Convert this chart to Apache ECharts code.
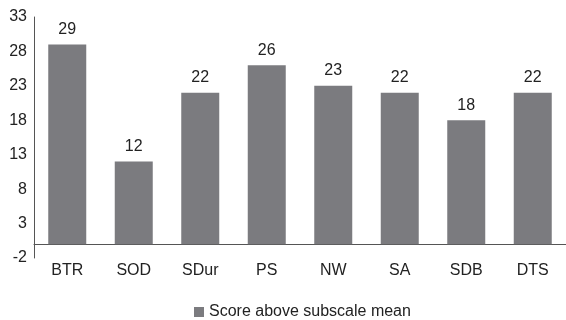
<!DOCTYPE html>
<html><head><meta charset="utf-8">
<script src="https://cdn.jsdelivr.net/npm/echarts@6/dist/echarts.min.js"></script>
<style>html,body{margin:0;padding:0;background:#fff}#c{width:566px;height:320px}</style>
</head><body><div id="c"></div>
<script>
var categories = ["BTR","SOD","SDur","PS","NW","SA","SDB","DTS"];
var scores = [29,12,22,26,23,22,18,22];
var seriesName = "Score above subscale mean";
var chart = echarts.init(document.getElementById('c'));
chart.setOption({
  animation:false,
  textStyle:{fontFamily:'Liberation Sans, Arial, sans-serif'},
  grid:{left:34, top:17, bottom:62, width:537},
  legend:{top:299, left:189, icon:'rect', itemWidth:10, itemHeight:10, itemGap:4,
    textStyle:{fontSize:16, color:'#222', fontFamily:'Liberation Sans, Arial, sans-serif'}, data:[seriesName]},
  xAxis:{type:'category', data:categories,
    axisLine:{onZero:true, lineStyle:{color:'#555', width:1}},
    axisTick:{show:false},
    axisLabel:{fontSize:16, color:'#222', margin:5}},
  yAxis:{type:'value', min:-2, max:33, interval:5,
    axisLine:{show:true, lineStyle:{color:'#555'}},
    axisTick:{show:false}, splitLine:{show:false},
    axisLabel:{fontSize:16, color:'#222', margin:7}},
  series:[{name:seriesName, type:'bar', data:scores, barWidth:38,
    itemStyle:{color:'#7b7b7f'},
    label:{show:true, position:'top', distance:7, fontSize:16, color:'#222'}}]
});
</script></body></html>
